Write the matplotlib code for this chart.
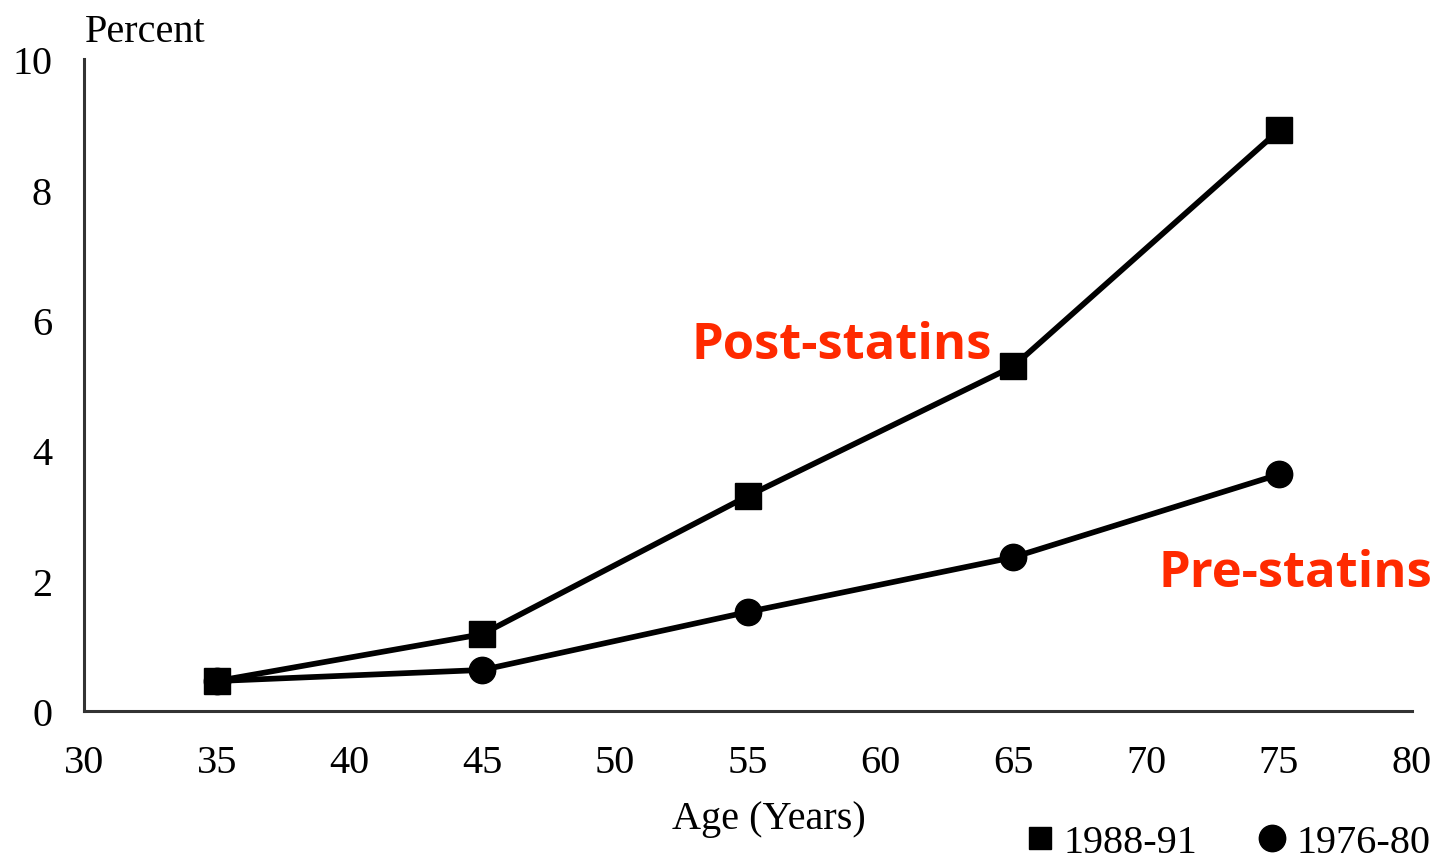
import matplotlib.pyplot as plt
from matplotlib.lines import Line2D

# values
ages = [35, 45, 55, 65, 75]
post_statins = [0.46, 1.18, 3.30, 5.29, 8.91]   # 1988-91
pre_statins = [0.46, 0.63, 1.52, 2.36, 3.63]    # 1976-80
x_ticks = [30, 35, 40, 45, 50, 55, 60, 65, 70, 75, 80]
y_ticks = [0, 2, 4, 6, 8, 10]

serif = "Liberation Serif"
red = "#FF2A00"
fs = 29

fig = plt.figure(figsize=(14.42, 8.62), dpi=100)
ax = fig.add_axes([0.0583, 0.174, 0.9207, 0.756])

ax.plot(ages, pre_statins, color="black", lw=4.1, marker="o", ms=19,
        zorder=3)
ax.plot(ages, post_statins, color="black", lw=4.1, marker="s", ms=19,
        zorder=4)

ax.set_xlim(30, 80)
ax.set_ylim(0, 10)
ax.set_xticks(x_ticks)
ax.set_yticks(y_ticks)
ax.tick_params(length=0, labelsize=fs)
ax.tick_params(axis="x", pad=24)
ax.tick_params(axis="y", pad=23)
for lab in ax.get_xticklabels() + ax.get_yticklabels():
    lab.set_fontfamily(serif)

for side in ["top", "right"]:
    ax.spines[side].set_visible(False)
for side in ["left", "bottom"]:
    ax.spines[side].set_color("#333333")
    ax.spines[side].set_linewidth(2.2)

fig.text(0.0590, 0.962, "Percent", fontsize=fs, family=serif,
         ha="left", va="center")
fig.text(0.533, 0.049, "Age (Years)", fontsize=fs, family=serif,
         ha="center", va="center")

# in-plot labels
ax.text(52.86, 5.62, "Post-statins", color=red, fontsize=36.5,
        family="Open Sans", weight="bold", va="center", ha="left")
ax.text(70.45, 2.12, "Pre-statins", color=red, fontsize=36.5,
        family="Open Sans", weight="bold", va="center", ha="left")

# legend under the axis, bottom right
handles = [
    Line2D([], [], color="black", marker="s", ls="none", ms=16),
    Line2D([], [], color="black", marker="o", ls="none", ms=19),
]
fig.legend(handles, ["1988-91", "1976-80"], loc="center right",
           bbox_to_anchor=(1.017, 0.021), ncol=2, frameon=False,
           prop={"family": serif, "size": fs}, handletextpad=0.3,
           columnspacing=1.55, handlelength=0.6)

fig.savefig("out.png", dpi=100)
